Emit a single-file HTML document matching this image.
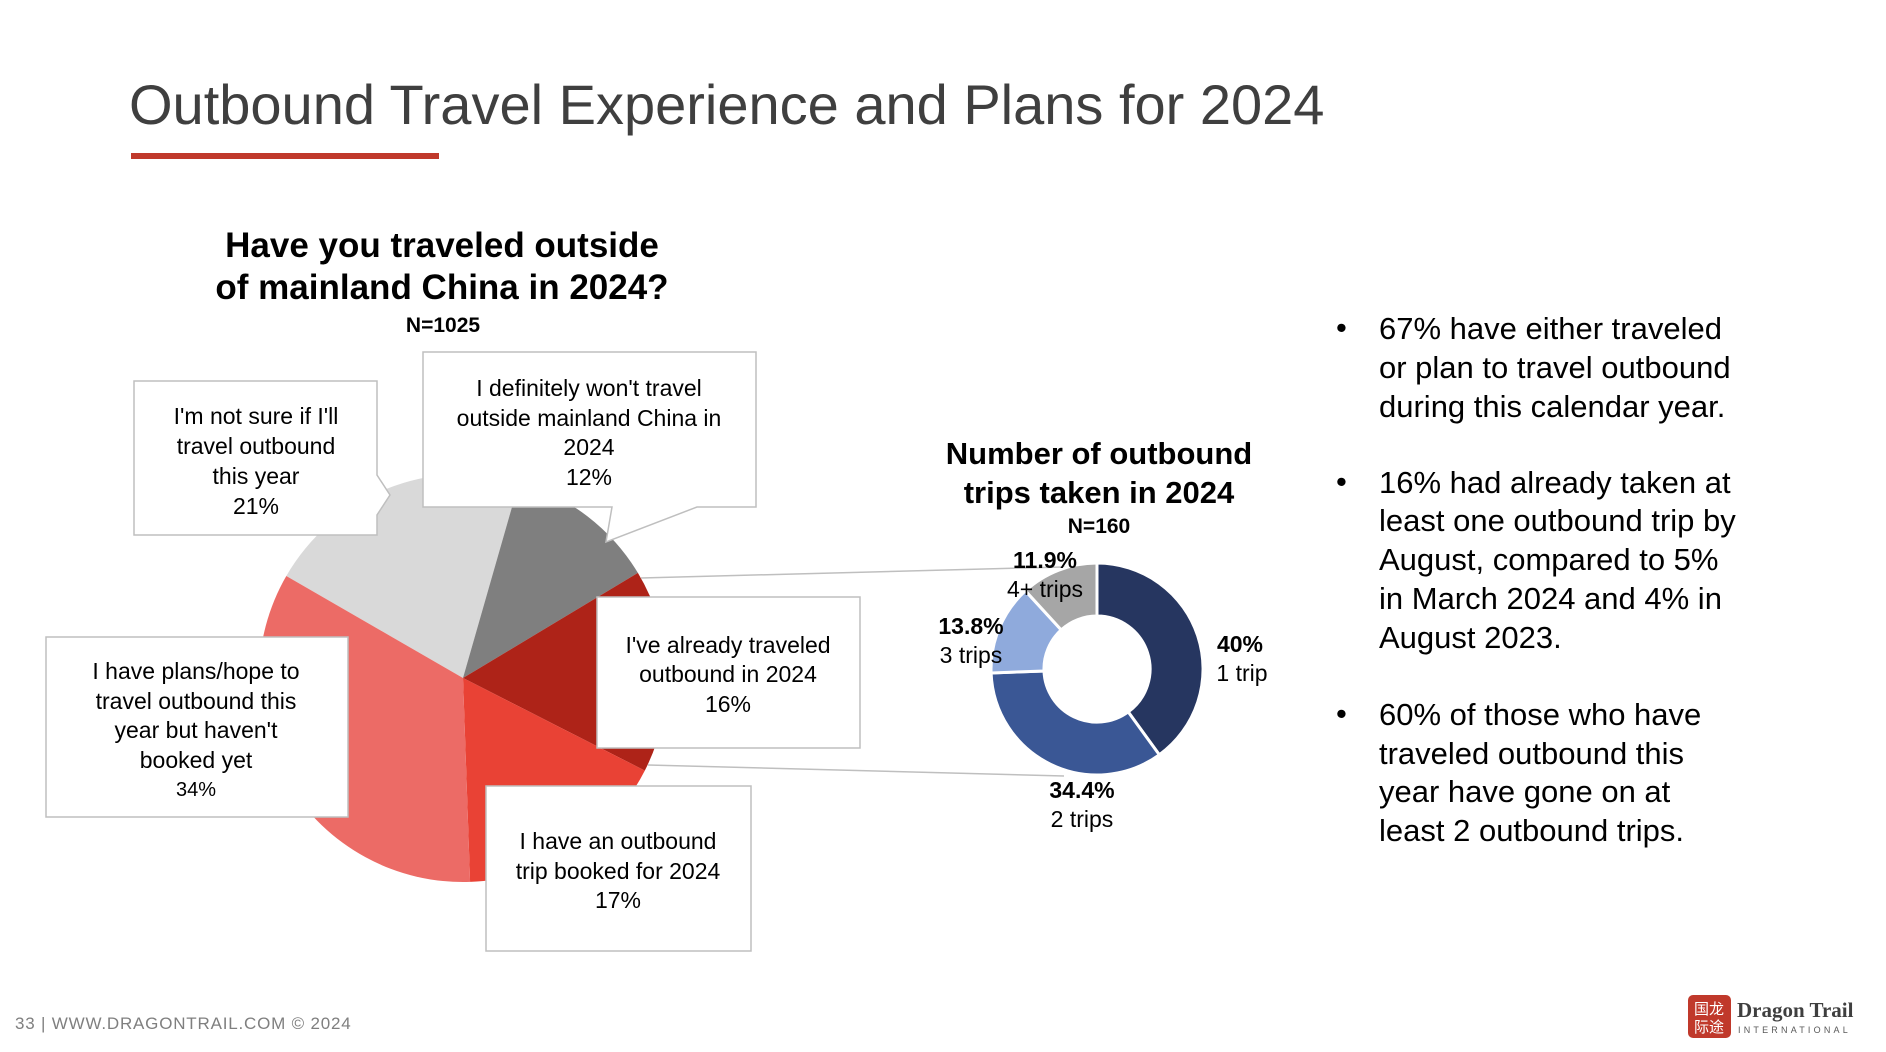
<!DOCTYPE html>
<html><head><meta charset="utf-8"><style>
html,body{margin:0;padding:0;background:#fff}
body{width:1886px;height:1052px;overflow:hidden;position:relative;font-family:"Liberation Sans",sans-serif}
</style></head><body>
<svg width="1886" height="1052" viewBox="0 0 1886 1052" xmlns="http://www.w3.org/2000/svg" style="position:absolute;left:0;top:0;font-family:'Liberation Sans',sans-serif">
<text x="129" y="124" font-size="56" fill="#3f3f3f">Outbound Travel Experience and Plans for 2024</text>
<rect x="131" y="153" width="308" height="6" fill="#c0392b"/>
<text x="442" y="257" font-size="35" font-weight="bold" text-anchor="middle" fill="#000">Have you traveled outside</text>
<text x="442" y="299" font-size="35" font-weight="bold" text-anchor="middle" fill="#000">of mainland China in 2024?</text>
<text x="443" y="332" font-size="21" font-weight="bold" text-anchor="middle" fill="#000">N=1025</text>
<g transform="translate(0,-3)">
<path d="M463,681 L286.3,579 A204,204 0 0 1 519.2,484.9 Z" fill="#d9d9d9"/>
<path d="M463,681 L519.2,484.9 A204,204 0 0 1 637.9,575.9 Z" fill="#7f7f7f"/>
<path d="M463,681 L637.9,575.9 A204,204 0 0 1 644.8,773.6 Z" fill="#ae2318"/>
<path d="M463,681 L644.8,773.6 A204,204 0 0 1 470.1,884.9 Z" fill="#e94235"/>
<path d="M463,681 L470.1,884.9 A204,204 0 0 1 286.3,579 Z" fill="#ec6b66"/>
<line x1="641" y1="581" x2="1100" y2="569" stroke="#bfbfbf" stroke-width="1.5"/>
<line x1="648" y1="768" x2="1064" y2="779" stroke="#bfbfbf" stroke-width="1.5"/>
<g fill="#fff" stroke="#bfbfbf" stroke-width="1.5">
<path d="M134,384 H377 V478 L390,498 L377,518 V538 H134 Z"/>
<path d="M423,355 H756 V510 H697 L606,545 L612,510 H423 Z"/>
<rect x="597" y="600" width="263" height="151"/>
<rect x="46" y="640" width="302" height="180"/>
<rect x="486" y="789" width="265" height="165"/>
</g>
<g font-size="23" fill="#000" text-anchor="middle">
<text x="256" y="427">I'm not sure if I'll</text>
<text x="256" y="457">travel outbound</text>
<text x="256" y="487">this year</text>
<text x="256" y="517">21%</text>
<text x="589" y="399">I definitely won't travel</text>
<text x="589" y="429">outside mainland China in</text>
<text x="589" y="458">2024</text>
<text x="589" y="488">12%</text>
<text x="728" y="656">I've already traveled</text>
<text x="728" y="685">outbound in 2024</text>
<text x="728" y="715">16%</text>
<text x="196" y="682">I have plans/hope to</text>
<text x="196" y="712">travel outbound this</text>
<text x="196" y="741">year but haven't</text>
<text x="196" y="771">booked yet</text>
<text x="196" y="799" font-size="20">34%</text>
<text x="618" y="852">I have an outbound</text>
<text x="618" y="882">trip booked for 2024</text>
<text x="618" y="911">17%</text>
</g>
</g>
<text x="1099" y="464" font-size="31" font-weight="bold" text-anchor="middle" fill="#000">Number of outbound</text>
<text x="1099" y="503" font-size="31" font-weight="bold" text-anchor="middle" fill="#000">trips taken in 2024</text>
<text x="1099" y="533" font-size="21" font-weight="bold" text-anchor="middle" fill="#000">N=160</text>
<g stroke="#fff" stroke-width="3" transform="translate(-2,-2)">
<path d="M1099,565 A106,106 0 0 1 1161.3,756.8 L1130.2,713.9 A53,53 0 0 0 1099,618 Z" fill="#263660"/>
<path d="M1161.3,756.8 A106,106 0 0 1 993.1,675 L1046,673 A53,53 0 0 0 1130.2,713.9 Z" fill="#3a5795"/>
<path d="M993.1,675 A106,106 0 0 1 1027.4,592.8 L1063.2,631.9 A53,53 0 0 0 1046,673 Z" fill="#8faadc"/>
<path d="M1027.4,592.8 A106,106 0 0 1 1099,565 L1099,618 A53,53 0 0 0 1063.2,631.9 Z" fill="#a6a6a6"/>
</g>
<g font-size="23" fill="#000" text-anchor="middle">
<text x="1240" y="652" font-weight="bold">40%</text>
<text x="1242" y="681">1 trip</text>
<text x="1082" y="798" font-weight="bold">34.4%</text>
<text x="1082" y="827">2 trips</text>
<text x="971" y="634" font-weight="bold">13.8%</text>
<text x="971" y="663">3 trips</text>
<text x="1045" y="568" font-weight="bold">11.9%</text>
<text x="1045" y="597">4+ trips</text>
</g>
<g font-size="31" fill="#000">
<text x="1336" y="338">•</text>
<text x="1379" y="339">67% have either traveled</text>
<text x="1379" y="378">or plan to travel outbound</text>
<text x="1379" y="417">during this calendar year.</text>
<text x="1336" y="492">•</text>
<text x="1379" y="493">16% had already taken at</text>
<text x="1379" y="531">least one outbound trip by</text>
<text x="1379" y="570">August, compared to 5%</text>
<text x="1379" y="609">in March 2024 and 4% in</text>
<text x="1379" y="648">August 2023.</text>
<text x="1336" y="724">•</text>
<text x="1379" y="725">60% of those who have</text>
<text x="1379" y="764">traveled outbound this</text>
<text x="1379" y="802">year have gone on at</text>
<text x="1379" y="841">least 2 outbound trips.</text>
</g>
<text x="15" y="1029" font-size="17" fill="#7f7f7f" letter-spacing="0.8">33  |  WWW.DRAGONTRAIL.COM © 2024</text>
<rect x="1688" y="995" width="43" height="43" rx="5" fill="#c0392b"/>
<text x="1709" y="1014" font-size="15" fill="#fff" text-anchor="middle" font-family="'Noto Sans CJK SC',sans-serif">国龙</text>
<text x="1709" y="1032" font-size="15" fill="#fff" text-anchor="middle" font-family="'Noto Sans CJK SC',sans-serif">际途</text>
<text x="1737" y="1017" font-size="21" font-weight="bold" fill="#3f3f3f" font-family="'Liberation Serif',serif">Dragon Trail</text>
<text x="1738" y="1033" font-size="9" fill="#595959" letter-spacing="3.2">INTERNATIONAL</text>
</svg>
</body></html>
